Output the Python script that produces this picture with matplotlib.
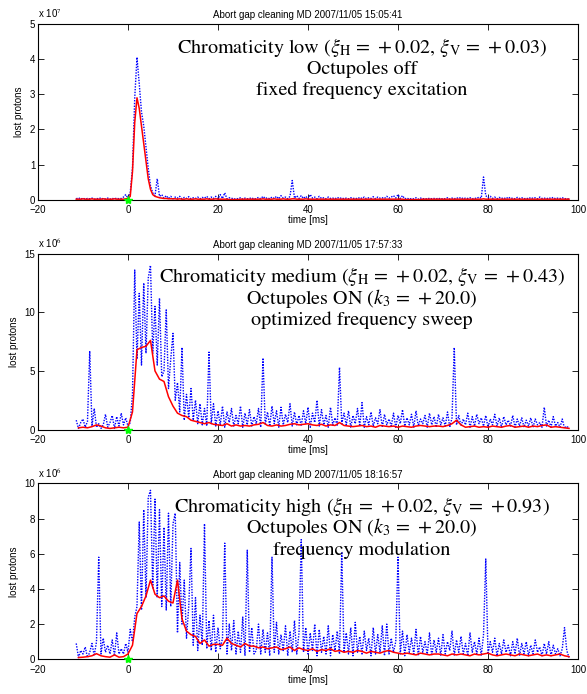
import numpy as np
import matplotlib
matplotlib.use("Agg")
import matplotlib.pyplot as plt

plt.rcParams['font.family'] = ['Liberation Sans', 'DejaVu Sans']
plt.rcParams['mathtext.fontset'] = 'stix'

# time grids [ms]
t_blue = np.arange(-11.5, 98.01, 0.5)
t_red_fine = np.arange(-11.5, 98.01, 0.5)
t_red = np.arange(-11.0, 98.01, 1.0)

# panel 1 (x 1e7) - chromaticity low
blue1 = [
    0.03, 0.06, 0.02, 0.05, 0.02, 0.04, 0.03, 0.05, 0.02, 0.04, 0.03, 0.06, 0.02, 0.03, 0.05, 0.02, 0.04, 0.03, 0.05, 0.03,
    0.04, 0.08, 0.15, 0.05, 0.2, 0.9, 2.9, 4.05, 3.3, 2.5, 2.1, 1.5, 0.9, 0.4, 0.2, 0.12, 0.6, 0.1, 0.15, 0.05,
    0.12, 0.04, 0.1, 0.03, 0.08, 0.05, 0.1, 0.03, 0.07, 0.04, 0.09, 0.03, 0.06, 0.04, 0.08, 0.03, 0.07, 0.05, 0.1, 0.03,
    0.08, 0.04, 0.1, 0.03, 0.15, 0.04, 0.2, 0.03, 0.06, 0.05, 0.02, 0.04, 0.03, 0.06, 0.02, 0.05, 0.03, 0.04, 0.06, 0.02,
    0.04, 0.07, 0.03, 0.1, 0.04, 0.06, 0.03, 0.08, 0.04, 0.1, 0.03, 0.12, 0.05, 0.08, 0.03, 0.1, 0.55, 0.05, 0.12, 0.04,
    0.12, 0.04, 0.1, 0.03, 0.15, 0.05, 0.08, 0.03, 0.1, 0.04, 0.06, 0.03, 0.08, 0.04, 0.05, 0.03, 0.07, 0.04, 0.06, 0.03,
    0.05, 0.03, 0.06, 0.04, 0.05, 0.03, 0.07, 0.04, 0.08, 0.03, 0.06, 0.04, 0.09, 0.03, 0.08, 0.05, 0.06, 0.04, 0.1, 0.05,
    0.08, 0.12, 0.05, 0.15, 0.04, 0.12, 0.03, 0.05, 0.02, 0.04, 0.03, 0.06, 0.02, 0.05, 0.03, 0.04, 0.02, 0.05, 0.03, 0.04,
    0.03, 0.05, 0.02, 0.04, 0.03, 0.06, 0.02, 0.05, 0.03, 0.06, 0.04, 0.07, 0.03, 0.05, 0.04, 0.06, 0.03, 0.05, 0.04, 0.08,
    0.05, 0.65, 0.12, 0.06, 0.1, 0.04, 0.08, 0.03, 0.07, 0.04, 0.06, 0.03, 0.08, 0.04, 0.05, 0.03, 0.07, 0.04, 0.06, 0.03,
    0.05, 0.03, 0.07, 0.04, 0.06, 0.03, 0.08, 0.04, 0.05, 0.03, 0.06, 0.04, 0.07, 0.03, 0.05, 0.04, 0.06, 0.03, 0.04, 0.02,
]
red1 = [
    0.02, 0.02, 0.02, 0.03, 0.02, 0.02, 0.02, 0.03, 0.02, 0.02, 0.02, 0.02, 0.03, 0.02, 0.02, 0.02, 0.02, 0.03, 0.02, 0.02,
    0.02, 0.02, 0.03, 0.04, 0.1, 0.8, 2.2, 2.9, 2.6, 2.1, 1.6, 1.1, 0.6, 0.3, 0.15, 0.1, 0.08, 0.06, 0.05, 0.04,
    0.04, 0.03, 0.03, 0.03, 0.03, 0.02, 0.03, 0.02, 0.02, 0.03, 0.02, 0.02, 0.02, 0.03, 0.02, 0.02, 0.02, 0.02, 0.03, 0.02,
    0.02, 0.02, 0.03, 0.02, 0.02, 0.02, 0.02, 0.02, 0.01, 0.01, 0.01, 0.01, 0.01, 0.02, 0.02, 0.02, 0.02, 0.02, 0.02, 0.02,
    0.02, 0.02, 0.02, 0.03, 0.02, 0.02, 0.02, 0.02, 0.03, 0.02, 0.02, 0.02, 0.03, 0.02, 0.02, 0.02, 0.03, 0.03, 0.02, 0.02,
    0.02, 0.02, 0.03, 0.02, 0.02, 0.02, 0.02, 0.02, 0.02, 0.02, 0.02, 0.02, 0.02, 0.02, 0.02, 0.02, 0.02, 0.02, 0.02, 0.02,
    0.02, 0.02, 0.02, 0.02, 0.02, 0.02, 0.02, 0.02, 0.02, 0.02, 0.02, 0.02, 0.02, 0.02, 0.02, 0.02, 0.02, 0.02, 0.02, 0.02,
    0.02, 0.02, 0.02, 0.02, 0.02, 0.02, 0.01, 0.01, 0.01, 0.01, 0.01, 0.01, 0.01, 0.01, 0.02, 0.02, 0.02, 0.02, 0.02, 0.02,
    0.02, 0.02, 0.02, 0.02, 0.02, 0.02, 0.02, 0.02, 0.02, 0.02, 0.02, 0.02, 0.02, 0.02, 0.02, 0.02, 0.02, 0.02, 0.02, 0.02,
    0.02, 0.03, 0.02, 0.02, 0.02, 0.02, 0.02, 0.02, 0.02, 0.02, 0.02, 0.02, 0.02, 0.02, 0.02, 0.02, 0.02, 0.02, 0.02, 0.02,
    0.02, 0.02, 0.02, 0.02, 0.02, 0.02, 0.02, 0.02, 0.02, 0.02, 0.02, 0.02, 0.02, 0.02, 0.02, 0.02, 0.02, 0.02, 0.02, 0.02,
]

# panel 2 (x 1e6) - chromaticity medium
blue2 = [
    0.8, 0.1, 0.6, 0.9, 0.2, 0.7, 6.7, 0.3, 1.8, 0.2, 0.5, 0.1, 0.4, 1.3, 0.2, 0.6, 1.2, 0.1, 1.1, 0.3,
    1.4, 0.4, 1.0, 0.3, 0.6, 3.0, 13.6, 6.0, 11.6, 5.5, 12.5, 6.5, 12.9, 14.0, 6.5, 10.5, 5.5, 11.2, 4.5, 5.0,
    10.2, 3.5, 6.0, 8.2, 2.5, 4.0, 1.5, 7.0, 0.8, 3.0, 1.0, 3.5, 0.8, 2.5, 0.5, 2.2, 0.4, 1.8, 0.3, 6.6,
    0.5, 2.2, 0.3, 1.6, 0.4, 2.0, 0.2, 1.5, 0.6, 1.8, 0.3, 1.2, 0.5, 2.0, 0.2, 1.4, 0.4, 1.7, 0.3, 1.1,
    0.5, 1.8, 0.2, 6.1, 0.4, 1.5, 0.3, 2.0, 0.5, 1.6, 0.2, 1.9, 0.4, 1.3, 0.6, 2.2, 0.3, 1.5, 0.4, 1.2,
    0.3, 1.6, 0.5, 1.9, 0.2, 1.4, 0.6, 2.5, 0.3, 1.7, 0.4, 1.2, 0.2, 1.9, 0.4, 1.0, 0.3, 5.3, 0.5, 1.4,
    0.4, 1.6, 0.2, 1.2, 0.5, 1.8, 0.3, 2.3, 0.2, 1.1, 0.4, 1.5, 0.3, 1.0, 0.5, 1.7, 0.2, 1.3, 0.4, 0.9,
    0.3, 1.4, 0.2, 1.2, 0.5, 1.7, 0.3, 1.0, 0.4, 1.3, 0.2, 1.6, 0.3, 0.9, 0.5, 1.2, 0.2, 1.4, 0.4, 1.1,
    0.2, 1.3, 0.4, 1.0, 0.3, 1.5, 0.2, 1.0, 7.0, 0.4, 1.2, 0.3, 0.9, 0.4, 1.4, 0.2, 1.1, 0.3, 1.3, 0.5,
    1.0, 0.3, 1.2, 0.2, 0.9, 0.4, 1.3, 0.3, 1.0, 0.2, 1.1, 0.4, 0.8, 0.3, 1.2, 0.2, 0.9, 0.3, 1.0, 0.2,
    0.8, 0.3, 1.0, 0.2, 0.9, 0.4, 0.6, 0.2, 1.9, 0.3, 0.8, 0.2, 1.1, 0.3, 0.6, 0.2, 0.9, 0.1, 0.3, 0.1,
]
red2 = [
    0.15, 0.2, 0.15, 0.25, 0.4, 0.3, 0.15, 0.1, 0.15, 0.2,
    0.15, 0.2, 1.5, 6.8, 7.0, 7.1, 7.6, 5.0, 4.3, 4.1,
    2.8, 2.0, 1.4, 1.2, 1.1, 0.8, 0.7, 0.6, 0.5, 0.6,
    0.45, 0.4, 0.35, 0.5, 0.3, 0.4, 0.3, 0.35, 0.3, 0.4,
    0.45, 0.6, 0.35, 0.3, 0.4, 0.3, 0.35, 0.45, 0.5, 0.4,
    0.45, 0.5, 0.4, 0.35, 0.45, 0.3, 0.4, 0.35, 0.6, 0.35,
    0.3, 0.25, 0.3, 0.35, 0.25, 0.3, 0.2, 0.35, 0.3, 0.25,
    0.3, 0.2, 0.3, 0.25, 0.2, 0.3, 0.35, 0.3, 0.25, 0.3,
    0.3, 0.25, 0.35, 0.5, 0.8, 0.4, 0.2, 0.25, 0.3, 0.2,
    0.25, 0.2, 0.3, 0.25, 0.2, 0.3, 0.35, 0.2, 0.25, 0.3,
    0.2, 0.3, 0.25, 0.35, 0.4, 0.2, 0.25, 0.2, 0.15, 0.1,
]

# panel 3 (x 1e6) - chromaticity high
blue3 = [
    0.9, 0.1, 0.5, 0.3, 0.7, 0.1, 0.4, 0.9, 0.2, 1.0, 5.8, 0.3, 1.2, 0.4, 0.8, 0.3, 1.1, 0.2, 1.5, 0.3,
    0.6, 0.3, 0.9, 0.4, 1.7, 1.0, 2.4, 3.0, 7.8, 2.8, 8.5, 3.5, 9.2, 9.6, 4.0, 9.1, 3.5, 8.5, 3.0, 7.5,
    2.8, 8.3, 3.0, 7.7, 8.3, 1.5, 5.5, 2.0, 4.5, 1.2, 3.0, 6.3, 0.8, 3.5, 0.5, 2.5, 0.8, 7.7, 0.6, 2.2,
    0.5, 2.5, 0.4, 1.8, 0.6, 1.2, 6.6, 0.3, 2.0, 0.5, 2.2, 0.3, 1.6, 0.4, 2.4, 0.2, 6.2, 0.4, 1.8, 0.3,
    0.5, 2.0, 0.3, 1.7, 0.4, 1.5, 0.2, 5.8, 0.4, 2.1, 0.3, 1.4, 0.5, 1.9, 0.2, 1.6, 0.4, 2.2, 0.3, 1.5,
    6.8, 0.4, 1.8, 0.3, 1.5, 0.5, 2.0, 0.2, 1.7, 0.4, 1.3, 0.3, 1.9, 0.2, 1.4, 0.5, 1.6, 0.3, 6.1, 0.4,
    1.5, 0.3, 1.8, 0.2, 2.1, 0.4, 1.3, 0.3, 1.6, 0.5, 1.2, 0.2, 1.8, 0.3, 1.4, 0.4, 1.9, 0.2, 2.0, 0.3,
    1.2, 0.4, 1.0, 5.8, 0.3, 1.6, 0.2, 1.4, 0.4, 1.2, 0.3, 1.7, 0.2, 1.3, 0.4, 1.0, 0.3, 1.5, 0.2, 1.1,
    0.4, 1.2, 0.2, 1.4, 0.3, 1.0, 0.5, 1.6, 0.2, 1.1, 0.4, 1.3, 0.3, 0.9, 0.2, 1.5, 0.4, 1.0, 0.3, 1.2,
    0.2, 1.4, 5.7, 0.3, 1.0, 0.4, 1.2, 0.2, 0.9, 0.3, 1.1, 0.4, 0.8, 0.2, 1.0, 0.3, 1.2, 0.2, 0.9, 0.3,
    1.0, 0.2, 0.8, 0.3, 1.1, 0.4, 0.7, 0.2, 0.9, 0.3, 1.0, 0.2, 0.8, 0.3, 0.6, 0.2, 0.6, 1.8, 0.5, 0.1,
]
red3 = [
    0.1, 0.12, 0.15, 0.2, 0.32, 0.2, 0.15, 0.12, 0.25, 0.12,
    0.15, 0.3, 0.8, 2.6, 3.0, 3.6, 4.5, 3.7, 3.5, 3.6,
    3.3, 3.2, 4.5, 2.3, 1.6, 1.4, 1.3, 0.9, 1.1, 0.75,
    0.85, 0.85, 0.8, 1.2, 0.9, 0.8, 0.7, 0.9, 0.75, 0.75,
    0.65, 0.7, 0.6, 0.65, 0.7, 0.55, 0.6, 0.7, 0.5, 0.65,
    0.55, 0.5, 0.6, 0.45, 0.55, 0.5, 0.6, 0.45, 0.5, 0.4,
    0.45, 0.4, 0.5, 0.45, 0.35, 0.45, 0.4, 0.35, 0.45, 0.5,
    0.4, 0.35, 0.3, 0.35, 0.3, 0.25, 0.35, 0.3, 0.25, 0.3,
    0.3, 0.25, 0.2, 0.3, 0.25, 0.3, 0.25, 0.2, 0.3, 0.25,
    0.3, 0.35, 0.25, 0.2, 0.25, 0.3, 0.25, 0.2, 0.3, 0.25,
    0.2, 0.25, 0.3, 0.2, 0.25, 0.2, 0.25, 0.3, 0.2, 0.15,
]

titles = ["Abort gap cleaning MD 2007/11/05 15:05:41",
          "Abort gap cleaning MD 2007/11/05 17:57:33",
          "Abort gap cleaning MD 2007/11/05 18:16:57"]
exponents = [7, 6, 6]
ylims = [5, 15, 10]
ysteps = [1, 5, 2]
notes = [
    [r"Chromaticity low ($\xi_{\mathrm{H}}\,=\,+0.02,\,\xi_{\mathrm{V}}\,=\,+0.03$)",
     "Octupoles off", "fixed frequency excitation"],
    [r"Chromaticity medium ($\xi_{\mathrm{H}}\,=\,+0.02,\,\xi_{\mathrm{V}}\,=\,+0.43$)",
     r"Octupoles ON ($k_3\,=\,+20.0$)", "optimized frequency sweep"],
    [r"Chromaticity high ($\xi_{\mathrm{H}}\,=\,+0.02,\,\xi_{\mathrm{V}}\,=\,+0.93$)",
     r"Octupoles ON ($k_3\,=\,+20.0$)", "frequency modulation"],
]
blues = [blue1, blue2, blue3]
reds = [(t_red_fine, red1), (t_red, red2), (t_red, red3)]

fig = plt.figure(figsize=(5.87, 6.94), dpi=100)
bottoms = [0.712, 0.381, 0.050]

for i in range(3):
    ax = fig.add_axes([0.0647, bottoms[i], 0.92, 0.2536])
    ax.plot(t_blue, blues[i], color='blue', linestyle=(0, (1, 1)), linewidth=1.0)
    tr, vr = reds[i]
    ax.plot(tr, vr, color='red', linewidth=1.1)
    ax.plot([0], [0], marker='*', color='#00ff00', markersize=6, clip_on=False, zorder=5)

    ax.set_xlim(-20, 100)
    ax.set_ylim(0, ylims[i])
    ax.set_xticks(np.arange(-20, 101, 20))
    ax.set_yticks(np.arange(0, ylims[i] + 0.1, ysteps[i]))
    ax.tick_params(direction='in', top=True, right=True, labelsize=7, length=4, width=0.6, pad=2)
    ax.tick_params(axis='x', pad=4)
    for s in ax.spines.values():
        s.set_linewidth(0.8)
    ax.set_xlabel("time [ms]", fontsize=7, labelpad=0)
    ax.set_ylabel("lost protons", fontsize=7, labelpad=4)
    ax.set_title(titles[i], fontsize=7, pad=4)
    ax.text(0.0, 1.02, r"x 10$^{%d}$" % exponents[i], transform=ax.transAxes,
            fontsize=7, ha='left', va='bottom')

    for k, yy in enumerate([0.836, 0.715, 0.595]):
        ax.text(0.6, yy, notes[i][k], transform=ax.transAxes, ha='center', va='baseline',
                fontsize=14.5, family='STIXGeneral')

fig.savefig("out.png", dpi=100)
